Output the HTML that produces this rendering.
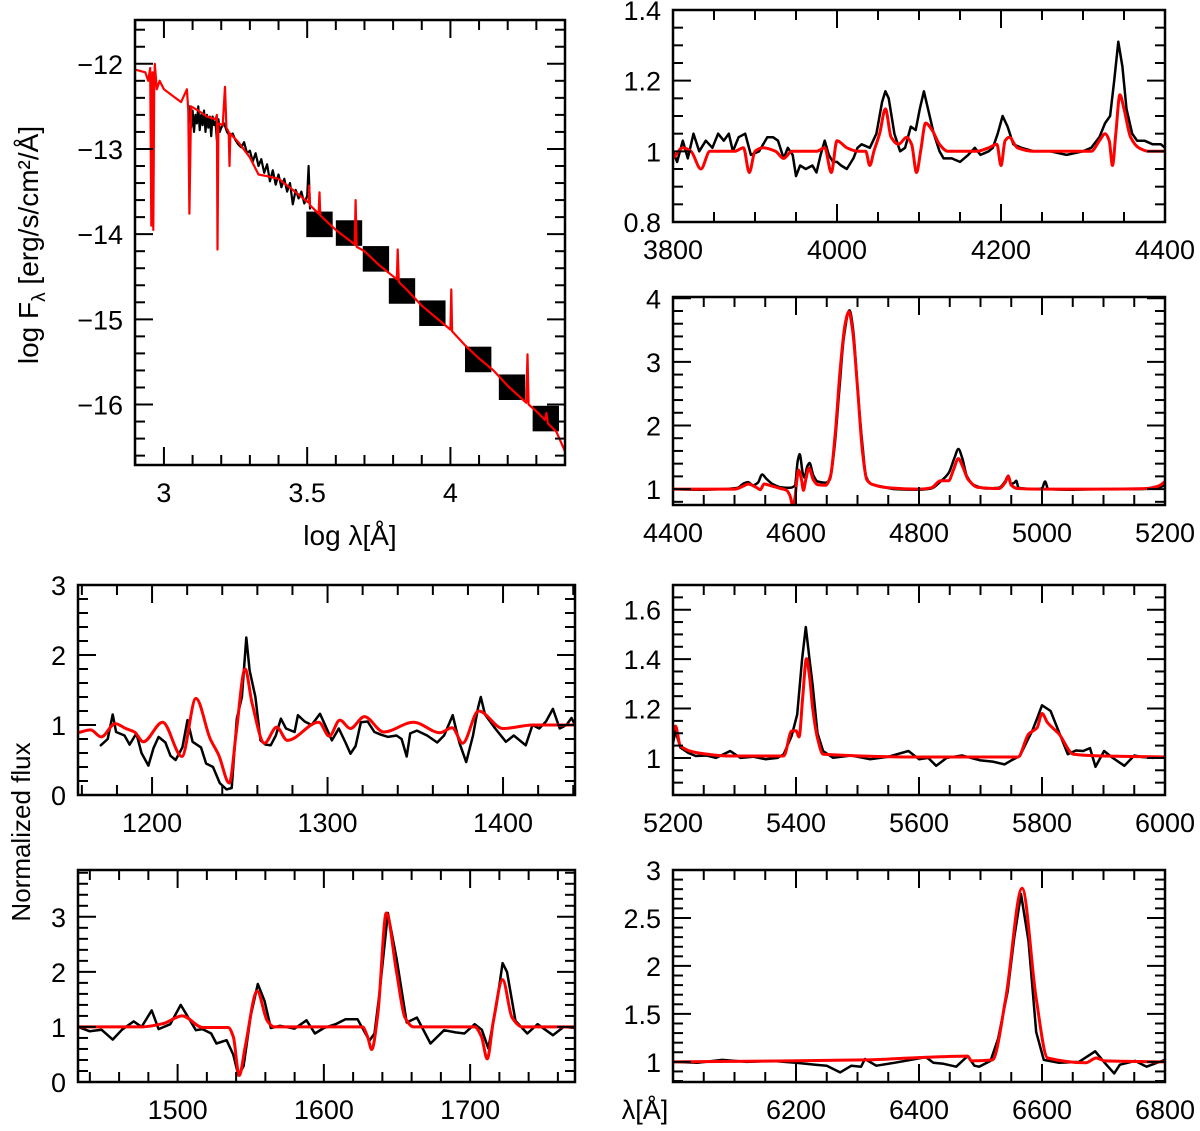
<!DOCTYPE html>
<html><head><meta charset="utf-8">
<style>
html,body{margin:0;padding:0;background:#fff;}
svg{display:block;font-family:"Liberation Sans",sans-serif;}
</style></head>
<body>
<svg id="fig" width="1200" height="1131" viewBox="0 0 1200 1131" xmlns="http://www.w3.org/2000/svg"></svg>
<script>
// ---------- DATA ----------
const sedBoxX = [3.543,3.646,3.740,3.831,3.937,4.097,4.215,4.333];
const sedBoxY = [-13.885,-13.987,-14.29,-14.667,-14.928,-15.471,-15.797,-16.165];
const sedRedX = [2.9,2.935,2.945,2.952,2.956,2.96,2.963,2.966,2.968,2.975,2.985,3.0,3.02,3.04,3.06,3.08,3.085,3.089,3.095,3.12,3.15,3.18,3.185,3.187,3.19,3.205,3.213,3.218,3.226,3.229,3.232,3.26,3.3,3.33,3.36,3.4,3.45,3.5,3.505,3.507,3.51,3.54,3.543,3.546,3.6,3.666,3.669,3.673,3.7,3.75,3.813,3.816,3.82,3.85,3.9,4.0,4.003,4.006,4.05,4.1,4.15,4.2,4.265,4.269,4.273,4.3,4.33,4.335,4.34,4.37,4.4];
const sedRedY = [-12.07,-12.1,-12.2,-12.05,-13.9,-12.1,-13.95,-12.3,-12.0,-12.3,-12.2,-12.3,-12.35,-12.4,-12.45,-12.3,-12.55,-13.76,-12.5,-12.55,-12.62,-12.65,-12.6,-14.18,-12.7,-12.72,-12.27,-12.75,-12.8,-13.2,-12.82,-12.92,-13.1,-13.3,-13.32,-13.35,-13.48,-13.62,-13.63,-13.43,-13.66,-13.76,-13.51,-13.78,-13.95,-14.12,-13.6,-14.15,-14.2,-14.36,-14.53,-14.18,-14.56,-14.66,-14.84,-15.12,-14.65,-15.14,-15.3,-15.46,-15.6,-15.78,-15.98,-15.41,-16.0,-16.08,-16.18,-16.1,-16.22,-16.32,-16.55];
const sedBlkX = [3.09,3.095,3.1,3.105,3.11,3.115,3.12,3.125,3.13,3.135,3.14,3.145,3.15,3.155,3.16,3.165,3.17,3.175,3.18,3.185,3.19,3.195,3.2,3.21,3.22,3.23,3.24,3.25,3.26,3.27,3.28,3.29,3.3,3.31,3.32,3.33,3.34,3.35,3.36,3.37,3.38,3.39,3.4,3.41,3.42,3.43,3.44,3.45,3.46,3.47,3.48,3.49,3.5,3.505,3.51];
const sedBlkY = [-12.5,-12.75,-12.55,-12.8,-12.6,-12.7,-12.5,-12.78,-12.6,-12.72,-12.55,-12.8,-12.6,-12.75,-12.62,-12.85,-12.62,-12.72,-12.68,-12.9,-12.65,-12.8,-12.75,-12.7,-12.8,-12.85,-12.82,-12.9,-12.95,-12.98,-12.92,-13.05,-13.02,-13.15,-13.05,-13.2,-13.12,-13.28,-13.18,-13.38,-13.25,-13.42,-13.3,-13.45,-13.35,-13.5,-13.4,-13.65,-13.48,-13.58,-13.5,-13.64,-13.55,-13.2,-13.7];

const bBlkX = [3800,3805,3812,3818,3825,3832,3840,3848,3855,3862,3868,3873,3880,3888,3895,3905,3915,3922,3928,3935,3940,3946,3950,3955,3962,3970,3975,3980,3985,3990,3995,4000,4005,4012,4020,4025,4030,4040,4048,4055,4059,4063,4070,4077,4083,4090,4096,4101,4106,4111,4118,4125,4130,4140,4150,4160,4168,4175,4185,4190,4196,4202,4208,4215,4225,4240,4260,4280,4300,4310,4320,4327,4333,4338,4343,4348,4353,4360,4366,4375,4385,4395,4400];
const bBlkY = [1.00,0.97,1.03,0.98,1.05,1.00,1.03,1.01,1.05,1.03,1.05,1.00,1.04,1.05,0.99,1.00,1.04,1.04,1.03,0.98,1.01,0.99,0.93,0.96,0.95,0.96,0.94,0.99,1.03,0.99,0.97,0.97,0.96,0.95,0.98,1.01,1.02,1.01,1.05,1.14,1.17,1.15,1.05,1.00,1.01,1.07,1.06,1.12,1.17,1.12,1.05,1.00,0.98,0.98,0.97,0.99,1.01,0.99,1.00,1.01,1.05,1.10,1.07,1.02,1.01,1.00,1.00,0.99,1.00,1.01,1.04,1.08,1.10,1.20,1.31,1.24,1.12,1.05,1.03,1.03,1.02,1.02,1.01];
const bRedX = [3800,3812,3822,3834,3845,3860,3875,3886,3893,3900,3910,3925,3935,3945,3960,3975,3985,3993,4000,4012,4025,4035,4040,4045,4052,4059,4066,4075,4085,4091,4097,4102,4108,4116,4125,4135,4150,4170,4185,4195,4200,4205,4210,4220,4240,4280,4310,4320,4327,4332,4336,4340,4345,4350,4358,4368,4380,4400];
const bRedY = [0.98,1.01,1.0,0.95,1.0,1.0,1.0,1.01,0.94,1.0,1.01,1.0,0.98,1.0,1.0,1.0,1.01,0.94,1.03,1.01,1.0,1.0,0.96,1.0,1.05,1.12,1.04,1.02,1.04,1.02,0.94,1.0,1.08,1.06,1.02,1.0,1.0,1.0,1.01,1.02,0.96,1.03,1.04,1.01,1.0,1.0,1.0,1.03,1.05,1.03,0.96,1.05,1.16,1.12,1.04,1.01,1.0,1.0];

const cBlkX = [4400,4440,4480,4505,4515,4522,4530,4538,4545,4552,4562,4575,4590,4598,4603,4606,4611,4614,4618,4622,4628,4635,4648,4655,4662,4670,4678,4687,4693,4700,4708,4714,4722,4740,4760,4800,4820,4835,4848,4858,4864,4870,4878,4890,4910,4930,4940,4945,4950,4955,4958,4962,4990,5000,5005,5010,5050,5100,5150,5185,5200];
const cBlkY = [1.0,0.99,1.0,1.02,1.09,1.11,1.06,1.1,1.23,1.16,1.08,1.03,1.02,1.05,1.45,1.55,1.25,1.18,1.35,1.41,1.22,1.12,1.1,1.15,1.6,2.5,3.4,3.81,3.5,2.6,1.7,1.2,1.08,1.04,1.0,0.99,1.01,1.12,1.25,1.5,1.63,1.5,1.2,1.06,1.01,1.02,1.12,1.21,1.08,1.1,1.13,1.02,1.0,1.01,1.12,1.0,0.99,1.0,1.0,1.01,1.06];
const cRedX = [4400,4500,4515,4522,4535,4542,4548,4560,4575,4585,4590,4595,4598,4601,4604,4609,4612,4616,4621,4628,4635,4648,4656,4664,4672,4680,4686,4692,4700,4708,4715,4725,4750,4800,4820,4835,4848,4856,4864,4870,4880,4895,4930,4940,4945,4950,4960,5000,5100,5170,5190,5200];
const cRedY = [1.0,1.0,1.05,1.08,1.03,0.99,1.08,1.05,1.01,0.98,0.9,0.74,0.85,1.1,1.3,1.15,0.98,1.15,1.33,1.15,1.07,1.06,1.2,1.9,2.9,3.6,3.79,3.5,2.6,1.6,1.15,1.07,1.02,1.0,1.02,1.13,1.13,1.3,1.48,1.38,1.15,1.03,1.01,1.1,1.2,1.06,1.01,1.0,1.0,1.01,1.05,1.12];

const dBlkX = [1170.8,1174.7,1177.6,1179.5,1184.3,1187.2,1191.1,1194,1197.9,1200.8,1203.7,1207.6,1210.5,1213.4,1217.3,1220.2,1223.1,1227.9,1230.8,1234.7,1238.6,1242.4,1245.4,1248.3,1251.2,1253.7,1255.6,1258.9,1261.8,1264.7,1267.6,1270.5,1273.4,1276.3,1281.2,1283.1,1287,1290.9,1295.7,1298.6,1302.5,1306.4,1310.2,1313.1,1316,1319,1322.8,1326.7,1330.6,1334.5,1339.3,1342.2,1345.1,1347.1,1350.9,1356.7,1362.5,1366.4,1371.3,1375.1,1379,1382.9,1385.8,1387.3,1389.7,1395.5,1401.6,1406.1,1412.9,1416.8,1420.6,1424.5,1428.4,1432.3,1436.1,1439,1441];
const dBlkY = [0.71,0.8,1.15,0.9,0.85,0.72,0.88,0.6,0.42,0.67,0.83,0.75,0.56,0.5,0.68,1.07,0.76,0.68,0.45,0.4,0.17,0.08,0.1,1.09,1.4,2.25,1.78,1.4,0.78,0.72,0.71,0.85,1.09,0.95,0.9,1.14,1.05,1.0,1.16,1.0,0.78,0.95,0.75,0.59,0.7,1.04,1.05,0.9,0.86,0.83,0.85,0.8,0.55,0.88,0.92,0.85,0.75,0.85,1.14,0.75,0.47,0.85,1.25,1.40,1.15,0.95,0.76,0.85,0.71,1.0,0.95,1.05,1.23,0.95,1.0,1.1,1.0];
const dRedX = [1157.8,1165,1171,1179,1185,1190,1195,1206,1217,1225,1233,1238,1244,1248,1253,1257,1264,1271,1277,1295,1301,1307,1313,1321,1332,1349,1364,1371,1377,1386,1400,1417,1441];
const dRedY = [0.89,0.93,0.83,1.02,0.95,0.9,0.76,1.04,0.55,1.38,0.81,0.57,0.17,0.9,1.8,1.31,0.74,0.97,0.78,1.04,0.84,1.07,0.95,1.12,0.9,1.04,0.89,0.96,0.74,1.2,0.95,1.0,1.0];

const eBlkX = [5200,5204,5212,5225,5237,5255,5270,5293,5310,5330,5350,5370,5380,5393,5402,5410,5416,5422,5427,5435,5444,5460,5490,5520,5550,5583,5600,5615,5628,5645,5670,5700,5720,5739,5750,5761,5764,5778,5784,5792,5800,5808,5814,5828,5842,5855,5867,5878,5887,5901,5915,5934,5950,5962,5980,6000];
const eBlkY = [1.06,1.109,1.042,1.02,1.008,1.01,1.0,1.028,1.0,1.005,0.995,1.0,1.015,1.09,1.176,1.4,1.530,1.40,1.297,1.1,1.028,1.001,1.01,0.995,1.005,1.028,0.995,1.0,0.968,1.0,1.01,0.99,0.985,0.974,0.99,1.004,1.008,1.08,1.109,1.16,1.213,1.2,1.19,1.102,1.015,1.03,1.028,1.04,0.964,1.028,1.0,0.968,1.01,1.004,1.0,1.004];
const eRedX = [5200,5204,5212,5237,5293,5380,5393,5400,5405,5411,5417,5422,5427,5435,5444,5600,5761,5778,5792,5800,5809,5828,5851,5900,6000];
const eRedY = [1.109,1.129,1.048,1.022,1.008,1.008,1.109,1.11,1.085,1.25,1.402,1.33,1.203,1.08,1.015,1.004,1.004,1.096,1.122,1.18,1.143,1.096,1.015,1.008,1.004];

const fBlkX = [1431.9,1440,1448,1455.6,1462,1470,1475.4,1482.3,1487,1495,1502.1,1512.5,1517,1523,1526.5,1533.5,1538,1541.6,1545.1,1550,1554.8,1559.5,1563.7,1570,1580,1588.1,1593.9,1600,1608,1614.8,1623,1631.1,1634.6,1638,1643.8,1649.7,1656.6,1663.6,1672.9,1682.2,1690,1696.1,1703.1,1708,1712.4,1718,1722.2,1725.2,1731,1739.1,1746.1,1756.6,1764,1771.7];
const fBlkY = [1.0,0.92,0.95,0.77,0.95,1.1,1.0,1.30,0.96,1.05,1.40,0.94,0.96,0.88,0.70,0.76,0.5,0.12,0.29,1.2,1.78,1.47,0.98,1.02,0.97,1.12,0.88,0.98,1.05,1.14,1.14,0.75,0.88,1.6,3.07,2.24,1.08,1.17,0.70,0.94,0.9,0.88,1.05,0.95,0.61,1.4,2.16,2.0,1.11,0.88,1.05,0.85,1.0,0.98];
const fRedX = [1431.9,1475.4,1490,1503.2,1517.2,1534.6,1538.1,1542.1,1546.2,1554.4,1561.3,1566,1626.4,1629.9,1632.7,1636.9,1642.7,1649.7,1655.5,1661.3,1703.1,1707.8,1711.7,1715.9,1722.2,1728.7,1735.7,1771.7];
const fRedY = [1.0,1.0,1.06,1.2,0.99,0.99,0.82,0.12,0.64,1.65,1.11,1.0,1.0,0.82,0.59,1.23,3.07,1.99,1.17,1.0,1.0,0.82,0.42,1.11,1.86,1.17,1.0,1.0];

const gBlkX = [6000,6040,6080,6120,6160,6200,6231.5,6250,6271.7,6290,6305.8,6312,6330.5,6360,6386.3,6411,6423.4,6440,6460.5,6479.1,6490,6497.7,6516.3,6528.6,6544.1,6555,6565.8,6578.1,6590.5,6602.9,6627.7,6660,6686.5,6702,6717.4,6726.7,6751.5,6770,6799.7];
const gBlkY = [1.0,0.99,1.02,1.0,1.01,0.99,0.97,0.96,0.89,0.96,0.95,1.03,0.96,0.99,1.02,1.05,0.99,0.98,0.95,1.06,0.96,0.95,1.01,1.24,1.73,2.3,2.75,2.26,1.31,1.02,0.99,1.0,1.11,0.99,0.88,0.97,1.01,0.95,1.02];
const gRedX = [6000,6312,6386.3,6479.1,6485.3,6519.3,6541,6567.6,6590.5,6609.1,6671,6688.3,6702,6799.7];
const gRedY = [1.0,1.02,1.04,1.06,1.01,1.02,1.66,2.81,1.66,1.04,0.99,1.04,1.01,1.0];

// tick label arrays
const aXLabels=[3,3.5,4], aYLabels=[-12,-13,-14,-15,-16];
const bXLabels=[3800,4000,4200,4400], bYLabels=[0.8,1,1.2,1.4];
const cXLabels=[4400,4600,4800,5000,5200], cYLabels=[1,2,3,4];
const dXLabels=[1200,1300,1400], dYLabels=[0,1,2,3];
const eXLabels=[5200,5400,5600,5800,6000], eYLabels=[1,1.2,1.4,1.6];
const fXLabels=[1500,1600,1700], fYLabels=[0,1,2,3];
const gXLabels=[6200,6400,6600,6800], gYLabels=[1,1.5,2,2.5,3];

// ---------- DRAW ----------
const NS="http://www.w3.org/2000/svg";
const svg=document.getElementById('fig');
function mk(tag,attrs,parent){const e=document.createElementNS(NS,tag);for(const k in attrs)e.setAttribute(k,attrs[k]);(parent||svg).appendChild(e);return e;}
function fmt(v){return (v<0?'\u2212':'')+String(Math.abs(v));}

// monotone cubic path (no overshoot)
function smoothPath(P){
  const n=P.length; if(n<3) return P.map((p,i)=>(i?'L':'M')+p[0].toFixed(1)+' '+p[1].toFixed(1)).join('');
  const d=[],m=new Array(n);
  for(let i=0;i<n-1;i++){const dx=P[i+1][0]-P[i][0];d.push(dx?(P[i+1][1]-P[i][1])/dx:0);}
  m[0]=d[0];m[n-1]=d[n-2];
  for(let i=1;i<n-1;i++){m[i]=(d[i-1]*d[i]<=0)?0:2/(1/d[i-1]+1/d[i]);}
  let s='M'+P[0][0].toFixed(1)+' '+P[0][1].toFixed(1);
  for(let i=0;i<n-1;i++){
    const h=(P[i+1][0]-P[i][0])/3;
    s+='C'+(P[i][0]+h).toFixed(1)+' '+(P[i][1]+m[i]*h).toFixed(1)+' '+(P[i+1][0]-h).toFixed(1)+' '+(P[i+1][1]-m[i+1]*h).toFixed(1)+' '+P[i+1][0].toFixed(1)+' '+P[i+1][1].toFixed(1);
  }
  return s;
}

function panel(name,p){
  const g=mk('g',{});
  
  
  const sx=v=>p.L+(v-p.x0)/(p.x1-p.x0)*(p.R-p.L);
  const sy=v=>p.B-(v-p.y0)/(p.y1-p.y0)*(p.B-p.T);
  const clip='clip-'+name;
  const cp=mk('clipPath',{id:clip},g);mk('rect',{x:p.L,y:p.T,width:p.R-p.L,height:p.B-p.T},cp);
  const plot=mk('g',{'clip-path':'url(#'+clip+')'},g);
  if(p.boxX){
    p.boxX.forEach((bx,i)=>{
      const r=mk('rect',{x:sx(bx-0.046),y:sy(p.boxY[i]+0.15),width:sx(bx+0.046)-sx(bx-0.046),height:sy(p.boxY[i]-0.15)-sy(p.boxY[i]+0.15),fill:'#000'},plot);
      
      
    });
  }
  p.series.forEach(s=>{
    const pts=s.x.map((v,i)=>[sx(v),sy(s.y[i])]);
    const d=s.smooth?smoothPath(pts):pts.map((q,i)=>(i?'L':'M')+q[0].toFixed(1)+' '+q[1].toFixed(1)).join('');
    const path=mk('path',{d:d,fill:'none',stroke:s.c,'stroke-width':s.w,'stroke-linejoin':'round','stroke-linecap':'round'},plot);
    
    
  });
  const tk=mk('g',{stroke:'#000','stroke-width':2},g);
  const eps=1e-6;
  for(let v=Math.ceil(p.x0/p.xm-eps)*p.xm; v<=p.x1+eps; v+=p.xm){
    const isM=Math.abs(v/p.xM-Math.round(v/p.xM))<1e-4;
    const l=isM?18:10, X=sx(v);
    mk('line',{x1:X,y1:p.B,x2:X,y2:p.B-l},tk);mk('line',{x1:X,y1:p.T,x2:X,y2:p.T+l},tk);
  }
  for(let v=Math.ceil(p.y0/p.ym-eps)*p.ym; v<=p.y1+eps; v+=p.ym){
    const isM=Math.abs(v/p.yM-Math.round(v/p.yM))<1e-4;
    const l=isM?18:10, Y=sy(v);
    mk('line',{x1:p.L,y1:Y,x2:p.L+l,y2:Y},tk);mk('line',{x1:p.R,y1:Y,x2:p.R-l,y2:Y},tk);
  }
  const fr=mk('rect',{x:p.L,y:p.T,width:p.R-p.L,height:p.B-p.T,fill:'none',stroke:'#000','stroke-width':2.5},g);
  
  
  p.xl.forEach(v=>{
    const t=mk('text',{x:sx(v),y:p.B+37,'font-size':27,'text-anchor':'middle',fill:'#000'},g);t.textContent=fmt(v);
    
    
  });
  p.yl.forEach(v=>{
    const t=mk('text',{x:p.L-12,y:sy(v)+10,'font-size':27,'text-anchor':'end',fill:'#000'},g);t.textContent=fmt(v);
    
    
  });
}

panel('sed-panel',{L:135,R:565,T:20,B:465,x0:2.899,x1:4.4,y0:-16.71,y1:-11.486,xm:0.1,xM:0.5,ym:0.2,yM:1,xl:aXLabels,yl:aYLabels,boxX:sedBoxX,boxY:sedBoxY,
  series:[{x:sedBlkX,y:sedBlkY,c:'#000',w:2.2,n:'sed-observed-line'},{x:sedRedX,y:sedRedY,c:'#ff0000',w:2.2,n:'sed-model-line'}]});
panel('panel-3800-4400',{L:673,R:1165,T:10,B:222,x0:3800,x1:4400,y0:0.8,y1:1.4,xm:50,xM:200,ym:0.05,yM:0.2,xl:bXLabels,yl:bYLabels,
  series:[{x:bBlkX,y:bBlkY,c:'#000',w:2.5,n:'observed-line'},{x:bRedX,y:bRedY,c:'#ff0000',w:3,n:'model-line',smooth:true}]});
panel('panel-4400-5200',{L:673,R:1165,T:297,B:505,x0:4400,x1:5200,y0:0.75,y1:4.02,xm:50,xM:200,ym:0.2,yM:1,xl:cXLabels,yl:cYLabels,
  series:[{x:cBlkX,y:cBlkY,c:'#000',w:2.5,n:'observed-line',smooth:true},{x:cRedX,y:cRedY,c:'#ff0000',w:3,n:'model-line',smooth:true}]});
panel('panel-1150-1440',{L:78,R:575,T:585,B:795,x0:1157.8,x1:1441,y0:0,y1:3,xm:20,xM:100,ym:0.2,yM:1,xl:dXLabels,yl:dYLabels,
  series:[{x:dBlkX,y:dBlkY,c:'#000',w:2.5,n:'observed-line'},{x:dRedX,y:dRedY,c:'#ff0000',w:3,n:'model-line',smooth:true}]});
panel('panel-5200-6000',{L:673,R:1165,T:585,B:795,x0:5200,x1:6000,y0:0.85,y1:1.70,xm:50,xM:200,ym:0.05,yM:0.2,xl:eXLabels,yl:eYLabels,
  series:[{x:eBlkX,y:eBlkY,c:'#000',w:2.5,n:'observed-line'},{x:eRedX,y:eRedY,c:'#ff0000',w:3,n:'model-line',smooth:true}]});
panel('panel-1430-1770',{L:78,R:575,T:870,B:1082,x0:1431.9,x1:1771.7,y0:0,y1:3.85,xm:20,xM:100,ym:0.2,yM:1,xl:fXLabels,yl:fYLabels,
  series:[{x:fBlkX,y:fBlkY,c:'#000',w:2.5,n:'observed-line'},{x:fRedX,y:fRedY,c:'#ff0000',w:3,n:'model-line',smooth:true}]});
panel('panel-6000-6800',{L:673,R:1165,T:870,B:1082,x0:6000,x1:6800,y0:0.79,y1:3.0,xm:50,xM:200,ym:0.1,yM:0.5,xl:gXLabels,yl:gYLabels,
  series:[{x:gBlkX,y:gBlkY,c:'#000',w:2.5,n:'observed-line'},{x:gRedX,y:gRedY,c:'#ff0000',w:3,n:'model-line',smooth:true}]});

let t=mk('text',{x:350,y:545,'font-size':28,'text-anchor':'middle',fill:'#000'});
t.textContent='log  λ[Å]';


t=mk('text',{x:0,y:0,'font-size':28,'text-anchor':'middle',fill:'#000',transform:'translate(38,245) rotate(-90)'});
t.innerHTML='log  F<tspan font-size="19" dy="7">λ</tspan><tspan dy="-7">  [erg/s/cm²/Å]</tspan>';


t=mk('text',{x:0,y:0,'font-size':26,'text-anchor':'middle',fill:'#000',transform:'translate(30,832) rotate(-90)'});
t.textContent='Normalized flux';


t=mk('text',{x:645,y:1119,'font-size':27,'text-anchor':'middle',fill:'#000'});
t.textContent='λ[Å]';


</script>
</body></html>
